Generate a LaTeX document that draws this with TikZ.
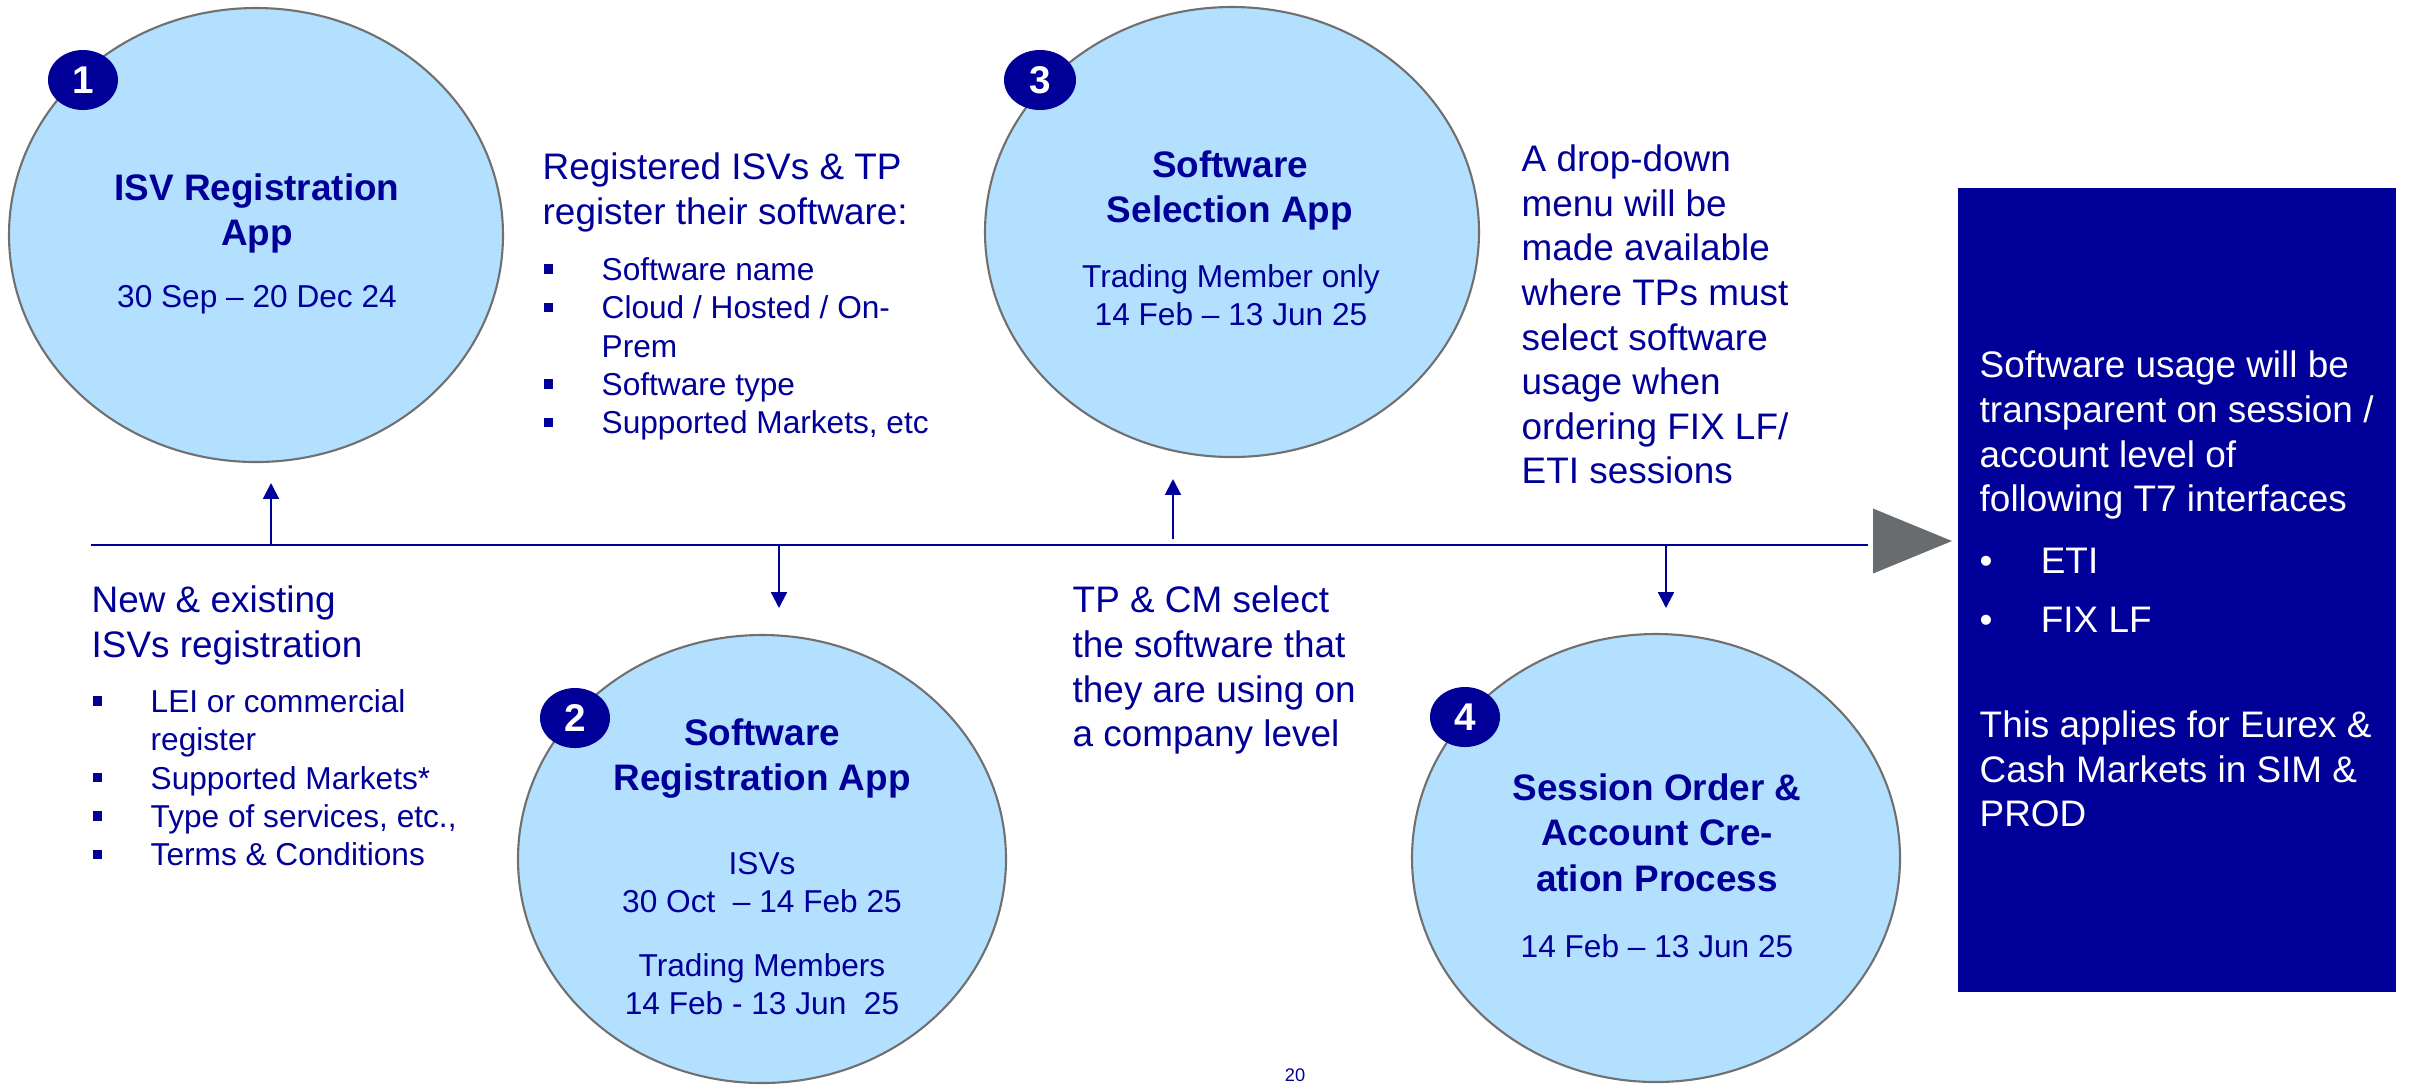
\documentclass[tikz,border=0pt]{standalone}
\usepackage{fontspec}
\setmainfont{Liberation Sans}
\usepackage{xcolor}
\usepackage{tikz}
\usetikzlibrary{shapes.geometric, arrows.meta}

\definecolor{navy}{RGB}{0,0,153}
\definecolor{bubblefill}{RGB}{179,224,255}
\definecolor{rimgrey}{RGB}{112,112,112}
\definecolor{tipgrey}{RGB}{104,108,111}

\newcommand{\sqitem}{\makebox[16.5pt][l]{\raisebox{2pt}{\rule{2.6pt}{2.6pt}}}}
\newcommand{\sqgap}{\hspace*{16.5pt}}
\newcommand{\dotitem}{\makebox[17.4pt][l]{\textbullet}}

\begin{document}
\begin{tikzpicture}[
    bubble/.style={ellipse, draw=rimgrey, line width=0.6pt, fill=bubblefill, inner sep=0pt},
    badge/.style={ellipse, fill=navy, text=white, inner sep=0pt, minimum width=0.70cm, minimum height=0.60cm, font=\fontsize{11}{12}\selectfont\bfseries},
    title/.style={anchor=north, align=center, inner sep=0pt, text=navy, font=\fontsize{10.5}{12.9}\selectfont\bfseries},
    dates/.style={anchor=north, align=center, inner sep=0pt, text=navy, font=\fontsize{9}{10.8}\selectfont},
    note/.style={anchor=north west, align=left, inner sep=0pt, text=navy, font=\fontsize{10.5}{12.75}\selectfont},
    items/.style={anchor=north west, align=left, inner sep=0pt, text=navy, font=\fontsize{9}{10.9}\selectfont},
    arrow/.style={-{Triangle[length=4.5pt, width=4.5pt]}, line width=0.6pt, draw=navy},
]
\useasboundingbox (0,0) rectangle (24.10,-10.84);

\node[bubble, minimum width=4.94cm, minimum height=4.54cm] (isvapp) at (2.56,-2.35) {};
\node[bubble, minimum width=4.94cm, minimum height=4.50cm] (selapp) at (12.32,-2.32) {};
\node[bubble, minimum width=4.88cm, minimum height=4.48cm] (regapp) at (7.62,-8.59) {};
\node[bubble, minimum width=4.88cm, minimum height=4.48cm] (session) at (16.56,-8.58) {};

\node[badge] (num1) at (0.83,-0.80) {1};
\node[badge, minimum width=0.72cm] (num3) at (10.40,-0.80) {3};
\node[badge] (num2) at (5.75,-7.18) {2};
\node[badge] (num4) at (14.65,-7.17) {4};

\node[title] (isvtitle) at (2.57,-1.73) {ISV Registration\\App};
\node[dates] (isvdate) at (2.57,-2.85) {30 Sep \textendash{} 20 Dec 24};
\node[title] (seltitle) at (12.30,-1.50) {Software\\Selection App};
\node[dates] (seldate) at (12.31,-2.64) {Trading Member only\\14 Feb \textendash{} 13 Jun 25};
\node[title] (regtitle) at (7.62,-7.18) {Software\\Registration App};
\node[dates] (regdate) at (7.62,-8.52) {ISVs\\30 Oct~ \textendash{} 14 Feb 25\\[7.4pt]Trading Members\\14 Feb - 13 Jun~ 25};
\node[title] (sestitle) at (16.57,-7.73) {Session Order \&\\Account Cre-\\ation Process};
\node[dates] (sesdate) at (16.57,-9.34) {14 Feb \textendash{} 13 Jun 25};

\node[note] (regnote) at (5.42,-1.52) {Registered ISVs \& TP\\register their software:};
\node[items] (regitems) at (5.43,-2.57) {\sqitem Software name\\\sqitem Cloud / Hosted / On-\\\sqgap Prem\\\sqitem Software type\\\sqitem Supported Markets, etc};
\node[note] (isvnote) at (0.91,-5.85) {New \& existing\\ISVs registration};
\node[items] (isvitems) at (0.92,-6.89) {\sqitem LEI or commercial\\\sqgap register\\\sqitem Supported Markets*\\\sqitem Type of services, etc.,\\\sqitem Terms \& Conditions};
\node[note] (selnote) at (10.72,-5.85) {TP \& CM select\\the software that\\they are using on\\a company level};
\node[note, font=\fontsize{10.5}{12.7}\selectfont] (menunote) at (15.21,-1.44) {A drop-down\\menu will be\\made available\\where TPs must\\select software\\usage when\\ordering FIX LF/\\ETI sessions};

\node[fill=navy, minimum width=4.38cm, minimum height=8.04cm, inner sep=0pt] (panel) at (21.77,-5.90) {};
\node[note, text=white] (paneltext) at (19.79,-3.50) {Software usage will be\\transparent on session /\\account level of\\following T7 interfaces\\[4.9pt]\dotitem ETI\\[4pt]\dotitem FIX LF\\[17pt]This applies for Eurex \&\\Cash Markets in SIM \&\\PROD};

\coordinate (tl0) at (0.91,-5.45);
\coordinate (tl1) at (18.68,-5.45);
\draw[navy, line width=0.7pt] (tl0) -- (tl1);
\fill[tipgrey] (18.73,-5.085) -- (19.52,-5.41) -- (18.73,-5.735) -- cycle;

\coordinate (up1) at (2.71,-5.45);
\coordinate (up1tip) at (2.71,-4.83);
\coordinate (down2) at (7.79,-5.45);
\coordinate (down2tip) at (7.79,-6.08);
\coordinate (up3) at (11.73,-5.39);
\coordinate (up3tip) at (11.73,-4.79);
\coordinate (down4) at (16.66,-5.45);
\coordinate (down4tip) at (16.66,-6.08);

\draw[arrow] (up1) -- (up1tip);
\draw[arrow] (down2) -- (down2tip);
\draw[arrow] (up3) -- (up3tip);
\draw[arrow] (down4) -- (down4tip);

\node[anchor=base, inner sep=0pt, text=navy, font=\fontsize{5.2}{6}\selectfont] (pageno) at (12.95,-10.81) {20};
\end{tikzpicture}
\end{document}
